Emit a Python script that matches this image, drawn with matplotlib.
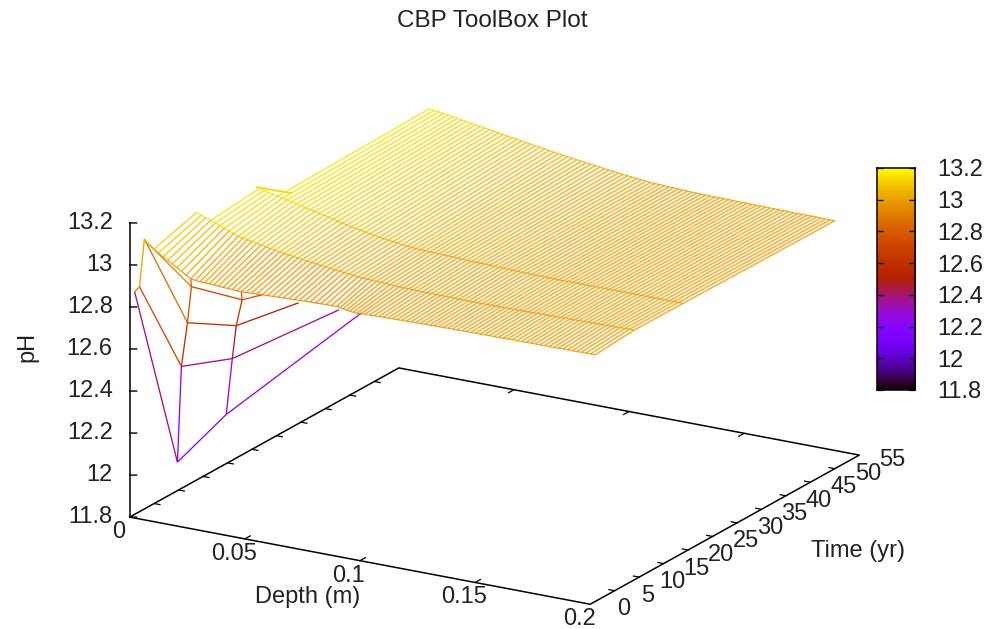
import matplotlib

matplotlib.use("Agg")
import matplotlib.pyplot as plt
import numpy as np
from matplotlib.colors import LinearSegmentedColormap
from mpl_toolkits.mplot3d import proj3d
from mpl_toolkits.mplot3d.art3d import Line3DCollection

plt.rcParams["font.family"] = ["Liberation Sans", "DejaVu Sans"]

DEPTH_TICKS = [0, 0.05, 0.1, 0.15, 0.2]
DEPTH_LABELS = ["0", "0.05", "0.1", "0.15", "0.2"]
TIME_TICKS = [0, 5, 10, 15, 20, 25, 30, 35, 40, 45, 50, 55]
PH_TICKS = [11.8, 12, 12.2, 12.4, 12.6, 12.8, 13, 13.2]
PH_LABELS = ["11.8", "12", "12.2", "12.4", "12.6", "12.8", "13", "13.2"]

# sparse early-time profiles: depth and pH at t = 1, 2, 3, 4 yr
EARLY_TIMES = [1, 2, 3, 4]
EARLY_DEPTHS = [
    [0, 0.0186, 0.0398, 0.0985],
    [0, 0.0182, 0.0403, 0.0866],
    [0, 0.0187, 0.0399, 0.067],
    [0, 0.0183, 0.0403, 0.049],
]
EARLY_PH = [
    [12.86, 12.087, 12.358, 12.963],
    [12.87, 12.529, 12.612, 12.94],
    [13.085, 12.725, 12.755, 12.92],
    [13.045, 12.883, 12.866, 12.908],
]
# palette value of each drawn piece
EARLY_ROW_COLOUR = [
    [12.40, 12.22, 12.26],
    [12.72, 12.38, 12.36],
    [12.86, 12.62, 12.52],
    [12.92, 12.72, 12.76],
]
EARLY_STEM_COLOUR = [
    [12.9, 13.0, 13.05],
    [12.2, 12.62, 12.76],
    [12.28, 12.46, 12.66],
]

# dense lines: upper end depths on the t = 9 ridge
HATCH_DEPTH = [
    0.010, 0.012, 0.014, 0.016, 0.018, 0.020, 0.022, 0.024, 0.026, 0.028, 0.030, 0.032,
    0.034, 0.036, 0.038, 0.040, 0.042, 0.044, 0.046, 0.048, 0.050, 0.052, 0.054, 0.056,
    0.058, 0.060, 0.062, 0.064, 0.066, 0.068, 0.070, 0.072, 0.074, 0.076, 0.078, 0.080,
    0.082, 0.084, 0.086, 0.088, 0.090, 0.092, 0.094, 0.096, 0.098, 0.100, 0.102, 0.104,
    0.106, 0.108, 0.110, 0.112, 0.114, 0.116, 0.118, 0.120, 0.122, 0.124, 0.126, 0.128,
    0.130, 0.132, 0.134, 0.136, 0.138, 0.140, 0.142, 0.144, 0.146, 0.148, 0.150, 0.152,
    0.154, 0.156, 0.158, 0.160, 0.162, 0.164, 0.166, 0.168, 0.170, 0.172, 0.174, 0.176,
    0.178, 0.180, 0.182, 0.184, 0.186, 0.188, 0.190, 0.192, 0.194, 0.196, 0.198, 0.200,
]
# lower ends of the same lines on the visible front edge
FRONT_DEPTH = [
    0.002, 0.004, 0.006, 0.008, 0.010, 0.012, 0.014, 0.016, 0.018, 0.020, 0.022, 0.024,
    0.026, 0.028, 0.030, 0.032, 0.034, 0.036, 0.038, 0.040, 0.042,
    0.0443, 0.0466, 0.0490, 0.0513, 0.0536, 0.0559, 0.0582, 0.0606, 0.0629, 0.0652, 0.0675,
    0.0698, 0.0722, 0.0745, 0.0768, 0.0791, 0.0814, 0.0838, 0.0861, 0.0884, 0.0907, 0.0930,
    0.0954, 0.0977, 0.100, 0.102, 0.104,
    0.106, 0.108, 0.110, 0.112, 0.114, 0.116, 0.118, 0.120, 0.122, 0.124, 0.126, 0.128,
    0.130, 0.132, 0.134, 0.136, 0.138, 0.140, 0.142, 0.144, 0.146, 0.148, 0.150, 0.152,
    0.154, 0.156, 0.158, 0.160, 0.162, 0.164, 0.166, 0.168, 0.170, 0.172, 0.174, 0.176,
    0.178, 0.180, 0.182, 0.184, 0.186, 0.188, 0.190, 0.192, 0.194, 0.196, 0.198, 0.200,
]
FRONT_TIME = [4] * 38 + [3.6, 3.1, 2.7, 2.3, 1.9, 1.5, 1.2] + [1] * 51
PH_FRONT = [
    13.027, 13.014, 13.000, 12.987, 12.974, 12.960, 12.947, 12.933, 12.920, 12.916, 12.914, 12.913,
    12.912, 12.911, 12.910, 12.908, 12.907, 12.906, 12.904, 12.904, 12.904,
    12.906, 12.907, 12.908, 12.909, 12.910, 12.911, 12.912, 12.913, 12.914, 12.915, 12.916, 12.917,
    12.917, 12.918, 12.919, 12.919, 12.920, 12.925, 12.929, 12.933, 12.938, 12.943, 12.948, 12.954, 12.960,
    12.960, 12.961, 12.961, 12.962, 12.962, 12.963, 12.963, 12.964, 12.964, 12.965,
    12.965, 12.966, 12.966, 12.966, 12.967, 12.967, 12.967, 12.968, 12.968, 12.968,
    12.968, 12.969, 12.969, 12.969, 12.969, 12.970, 12.970, 12.970, 12.970, 12.970,
    12.971, 12.971, 12.971, 12.971, 12.971, 12.972, 12.972, 12.972, 12.972, 12.972,
    12.972, 12.973, 12.973, 12.973, 12.973, 12.973, 12.974, 12.974, 12.974, 12.974,
]
PH_T9 = [
    13.155, 13.146, 13.138, 13.129, 13.121, 13.112, 13.104, 13.095, 13.087, 13.078, 13.074, 13.070,
    13.066, 13.062, 13.058, 13.053, 13.049, 13.045, 13.041, 13.038, 13.035, 13.032, 13.029, 13.026,
    13.023, 13.020, 13.017, 13.014, 13.012, 13.009, 13.006, 13.004, 13.001, 12.998, 12.996, 12.993,
    12.991, 12.990, 12.989, 12.988, 12.987, 12.986, 12.985, 12.984, 12.983, 12.982,
    12.982, 12.981, 12.981, 12.980, 12.980, 12.980, 12.979, 12.979, 12.979, 12.979,
    12.978, 12.978, 12.978, 12.978, 12.978, 12.978, 12.978, 12.978, 12.978, 12.978,
    12.978, 12.978, 12.979, 12.979, 12.979, 12.980, 12.980, 12.980, 12.981, 12.981,
    12.981, 12.982, 12.982, 12.982, 12.983, 12.983, 12.984, 12.984, 12.984, 12.985,
    12.985, 12.985, 12.986, 12.986, 12.987, 12.987, 12.988, 12.988, 12.989, 12.989,
]
# t = 19 starts at depth 0.016, t = 50 at depth 0.024
PH_T19 = [
    13.152, 13.147, 13.142, 13.137, 13.132, 13.127, 13.122, 13.117, 13.112, 13.107, 13.102, 13.097,
    13.092, 13.087, 13.082, 13.077, 13.072, 13.067, 13.062, 13.057, 13.052, 13.048, 13.044, 13.040,
    13.036, 13.032, 13.028, 13.025, 13.022, 13.019, 13.016, 13.013, 13.010, 13.008,
    13.007, 13.006, 13.005, 13.004, 13.004, 13.003, 13.002, 13.001, 13.000,
    12.999, 12.998, 12.997, 12.996, 12.996, 12.995, 12.995, 12.994, 12.993, 12.992,
    12.992, 12.991, 12.990, 12.990, 12.989, 12.989, 12.988, 12.988, 12.987, 12.987,
    12.987, 12.987, 12.987, 12.987, 12.987, 12.987, 12.987, 12.987, 12.987, 12.987,
    12.987, 12.987, 12.987, 12.987, 12.987, 12.987, 12.987, 12.987, 12.987, 12.987,
    12.987, 12.987, 12.987, 12.987, 12.987, 12.987, 12.987, 12.987, 12.987, 12.987,
]
PH_T50 = [
    13.148, 13.144, 13.141, 13.137, 13.134, 13.130, 13.127, 13.123, 13.120, 13.116, 13.113, 13.109,
    13.106, 13.102, 13.099, 13.095, 13.092, 13.088, 13.085, 13.081, 13.078, 13.074, 13.071, 13.067,
    13.064, 13.060, 13.057, 13.053, 13.050, 13.047, 13.044, 13.041, 13.038, 13.035, 13.032, 13.029,
    13.026, 13.023, 13.020,
    13.018, 13.015, 13.012, 13.010, 13.007, 13.005, 13.002, 13.000, 12.998, 12.996,
    12.995, 12.994, 12.993, 12.992, 12.991, 12.990, 12.989, 12.988, 12.987, 12.987,
    12.986, 12.986, 12.985, 12.985, 12.985, 12.985, 12.985, 12.984, 12.984, 12.984,
    12.984, 12.983, 12.983, 12.983, 12.983, 12.982, 12.982, 12.982, 12.982, 12.982,
    12.981, 12.981, 12.981, 12.981, 12.981, 12.981, 12.980, 12.980, 12.980, 12.980,
]
# short bright edge just behind the t = 19 ridge
CREST_DEPTH = [0.0147, 0.0239]
CREST_TIME = [19, 21.8]
CREST_PH = [13.155, 13.11]

PH_MIN, PH_MAX = 11.8, 13.2


def gnuplot_cmap():
    # gnuplot's default pm3d palette (rgbformulae 7,5,15)
    grey = np.linspace(0, 1, 256)
    rgb = np.column_stack([np.sqrt(grey), grey**3, np.clip(np.sin(2 * np.pi * grey), 0, 1)])
    return LinearSegmentedColormap.from_list("pm3d", rgb)


CMAP = gnuplot_cmap()


def palette(value):
    return CMAP((value - PH_MIN) / (PH_MAX - PH_MIN))


def mean_colours(segments):
    return [palette(0.5 * (a[2] + b[2])) for a, b in segments]


front = list(zip(FRONT_DEPTH, FRONT_TIME, PH_FRONT))
row9 = [(d, 9, v) for d, v in zip(HATCH_DEPTH, PH_T9)]
row19 = [(d, 19, v) for d, v in zip(HATCH_DEPTH[3:], PH_T19)]
row50 = [(d, 50, v) for d, v in zip(HATCH_DEPTH[7:], PH_T50)]

# early profiles and the stems joining them
early_segments, early_colours = [], []
for r, time in enumerate(EARLY_TIMES):
    points = [(d, time, v) for d, v in zip(EARLY_DEPTHS[r], EARLY_PH[r])]
    early_segments.extend(zip(points[:-1], points[1:]))
    early_colours.extend(palette(v) for v in EARLY_ROW_COLOUR[r])
for column in range(3):
    points = [(EARLY_DEPTHS[r][column], EARLY_TIMES[r], EARLY_PH[r][column]) for r in range(4)]
    early_segments.extend(zip(points[:-1], points[1:]))
    early_colours.extend(palette(v) for v in EARLY_STEM_COLOUR[column])
for column, front_index, colour in [(1, 8, 12.82), (2, 19, 12.78)]:
    start = (EARLY_DEPTHS[3][column], EARLY_TIMES[3], EARLY_PH[3][column])
    early_segments.append((start, front[front_index]))
    early_colours.append(palette(colour))

hatch_segments = list(zip(front, row9)) + list(zip(row9[3:], row19)) + list(zip(row19[4:], row50))

edge_segments = []
for row in (front, row9, row19, row50):
    edge_segments.extend(zip(row[:-1], row[1:]))

fig = plt.figure(figsize=(9.89, 6.29), dpi=100)
side = 792
ax = fig.add_axes([87.8 / 989, (629 - 745.7) / 629, side / 989, side / 629], projection="3d", proj_type="ortho")
ax.view_init(elev=18.9, azim=-59.7)
ax.set_box_aspect((1, 1, 0.583))
ax.set_xlim(0, 0.2, view_margin=0)
ax.set_ylim(0, 55, view_margin=0)
ax.set_zlim(PH_MIN, PH_MAX, view_margin=0)
ax.set_axis_off()
ax.patch.set_alpha(0)

ax.add_collection3d(Line3DCollection(hatch_segments, colors=mean_colours(hatch_segments), linewidths=1.25, alpha=0.72))
ax.add_collection3d(Line3DCollection(edge_segments, colors=mean_colours(edge_segments), linewidths=0.85, alpha=0.85))
ax.add_collection3d(Line3DCollection(early_segments, colors=early_colours, linewidths=0.95))
ax.plot(CREST_DEPTH, CREST_TIME, CREST_PH, color=palette(13.12), linewidth=1.2)

# floor box and pH axis
axis_style = {"color": "black", "linewidth": 1.1}
ax.plot([0, 0.2, 0.2, 0, 0], [0, 0, 55, 55, 0], [PH_MIN] * 5, **axis_style)
ax.plot([0, 0], [0, 0], [PH_MIN, PH_MAX], **axis_style)

# mirrored ticks on the floor, inward ticks on the pH axis
for depth in DEPTH_TICKS[1:-1]:
    ax.plot([depth, depth], [0, 1.1], [PH_MIN] * 2, color="black", linewidth=0.9)
    ax.plot([depth, depth], [55, 53.9], [PH_MIN] * 2, color="black", linewidth=0.9)
for time in TIME_TICKS[1:-1]:
    ax.plot([0.2, 0.1975], [time, time], [PH_MIN] * 2, color="black", linewidth=0.9)
    ax.plot([0, 0.0025], [time, time], [PH_MIN] * 2, color="black", linewidth=0.9)
for value in PH_TICKS:
    ax.plot([0, 0.003], [0, 0], [value, value + 0.006], color="black", linewidth=1.0)


def axis_label(x, y, z, text, offset, ha="center"):
    # project the tick position to the 2D view, then shift by screen pixels
    px, py, _ = proj3d.proj_transform(x, y, z, projection)
    ax.annotate(text, xy=(px, py), xytext=offset, textcoords="offset pixels", ha=ha, va="center",
                fontsize=tick_size, color="#222222", annotation_clip=False)


projection = ax.get_proj()
tick_size = 17
for depth, label in zip(DEPTH_TICKS, DEPTH_LABELS):
    axis_label(depth, 0, PH_MIN, label, (-11, -15))
for time in TIME_TICKS:
    axis_label(0.2, time, PH_MIN, str(time), (33, -5))
for value, label in zip(PH_TICKS, PH_LABELS):
    axis_label(0, 0, value, label, (-17, 0), ha="right")

# colour box
cbar = fig.add_axes([877 / 989, (629 - 390) / 629, 38 / 989, 222 / 629])
gradient = np.linspace(0, 1, 256).reshape(-1, 1)
cbar.imshow(gradient, origin="lower", aspect="auto", cmap=CMAP, extent=[0, 1, PH_MIN, PH_MAX])
cbar.set_xticks([])
cbar.set_yticks(PH_TICKS)
cbar.set_yticklabels(PH_LABELS)
cbar.tick_params(axis="y", direction="in", left=True, right=True, labelleft=False, labelright=True,
                 length=4, width=0.9, pad=16, labelsize=tick_size, labelcolor="#222222")
for spine in cbar.spines.values():
    spine.set_linewidth(1.1)

fig.text(492 / 989, 1 - 21 / 629, "CBP ToolBox Plot", ha="center", va="center", fontsize=17.5, color="#222222")
fig.text(27 / 989, 1 - 347 / 629, "pH", ha="center", va="center", rotation=90, fontsize=17, color="#222222")
fig.text(308 / 989, 1 - 597 / 629, "Depth (m)", ha="center", va="center", fontsize=17, color="#222222")
fig.text(858 / 989, 1 - 551 / 629, "Time (yr)", ha="center", va="center", fontsize=17, color="#222222")

fig.savefig("out.png", dpi=100, facecolor="white")
plt.close(fig)
